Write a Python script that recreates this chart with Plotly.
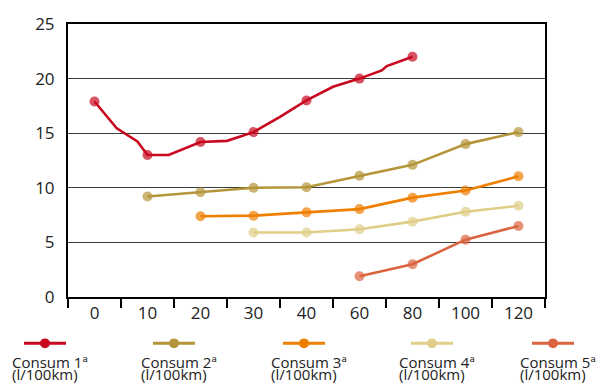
import numpy as np
import plotly.graph_objects as go

# Speed categories along the x axis (km/h)
speeds = [0, 10, 20, 30, 40, 60, 80, 100, 120]
speed_labels = ["0", "10", "20", "30", "40", "60", "80", "100", "120"]

# Consumption per gear (l/100km); gear 1 also has intermediate readings
gear1_speed = [0, 4.2, 8.1, 10, 14, 20, 25, 30, 35, 40, 50, 60, 68.4, 70.3, 80]
gear1_cons = [17.9, 15.45, 14.25, 13.0, 13.0, 14.2, 14.3, 15.1, 16.5, 18.0, 19.25, 20.0, 20.75, 21.15, 22.0]

gear2_speed = [10, 20, 30, 40, 60, 80, 100, 120]
gear2_cons = [9.2, 9.6, 10.0, 10.05, 11.1, 12.1, 14.0, 15.1]

gear3_speed = [20, 30, 40, 60, 80, 100, 120]
gear3_cons = [7.4, 7.45, 7.75, 8.05, 9.1, 9.75, 11.05]

gear4_speed = [30, 40, 60, 80, 100, 120]
gear4_cons = [5.9, 5.9, 6.2, 6.9, 7.8, 8.35]

gear5_speed = [60, 80, 100, 120]
gear5_cons = [1.9, 3.0, 5.25, 6.5]

series_names = ["Consum 1ª", "Consum 2ª", "Consum 3ª", "Consum 4ª", "Consum 5ª"]
unit_label = "(l/100km)"
colors = ["#c8081f", "#b5953a", "#ef7f00", "#e0cd88", "#da6440"]

FONT = "Open Sans, Liberation Sans, Arial, sans-serif"
TEXT_COLOR = "#222222"

W, H = 599, 384
ML, MR, MT, MB = 68, 54, 20, 87
PW, PH = W - ML - MR, H - MT - MB

# categories sit at equal spacing; map km/h onto category slots
cat_index = np.arange(len(speeds))


def to_pos(s):
    return np.interp(s, speeds, cat_index)


fig = go.Figure()

all_series = [
    (gear1_speed, gear1_cons),
    (gear2_speed, gear2_cons),
    (gear3_speed, gear3_cons),
    (gear4_speed, gear4_cons),
    (gear5_speed, gear5_cons),
]

for (spd, cons), name, col in zip(all_series, series_names, colors):
    sizes = [10 if s in speeds else 0 for s in spd]
    fig.add_trace(go.Scatter(
        x=to_pos(spd), y=cons, name=name,
        mode="lines+markers",
        line=dict(color=col, width=2.6),
        marker=dict(color=col, size=sizes, line=dict(width=0)),
        cliponaxis=False,
        showlegend=False,
    ))

fig.update_layout(
    width=W, height=H,
    margin=dict(l=ML, r=MR, t=MT, b=MB, pad=0),
    plot_bgcolor="white", paper_bgcolor="white",
    font=dict(family=FONT, color=TEXT_COLOR),
    showlegend=False,
)

fig.update_xaxes(
    range=[-0.5, len(speeds) - 0.5],
    tickmode="array", tickvals=list(cat_index), ticktext=speed_labels,
    ticks="", tickfont=dict(size=17, color=TEXT_COLOR, family=FONT),
    ticklabelstandoff=0,
    showline=True, linecolor="black", linewidth=2, mirror=True,
    showgrid=False, zeroline=False,
    minor=dict(tickmode="array", tickvals=[i - 0.5 for i in range(len(speeds) + 1)],
               ticks="outside", ticklen=9, tickwidth=2, tickcolor="black", showgrid=False),
)

fig.update_yaxes(
    range=[0, 25], tickmode="array", tickvals=[0, 5, 10, 15, 20, 25],
    ticks="", tickfont=dict(size=17, color=TEXT_COLOR, family=FONT),
    ticklabelstandoff=8,
    showgrid=True, gridcolor="#3c3c3c", gridwidth=1.2,
    showline=True, linecolor="black", linewidth=2, mirror=True,
    zeroline=False,
)


# legend drawn underneath the plot: swatch above a two-line label
def px_x(px):
    return (px - ML) / PW


def px_y(py):
    return (H - MB - py) / PH


legend_centres = [45, 174, 304, 432, 553]
swatch_half = 21
swatch_y = 344
label_font = dict(size=15, color=TEXT_COLOR, family=FONT)
for name, col, cx in zip(series_names, colors, legend_centres):
    fig.add_shape(type="line", xref="paper", yref="paper",
                  x0=px_x(cx - swatch_half), x1=px_x(cx + swatch_half),
                  y0=px_y(swatch_y), y1=px_y(swatch_y),
                  line=dict(color=col, width=3))
    fig.add_shape(type="circle", xref="paper", yref="paper",
                  x0=px_x(cx - 5), x1=px_x(cx + 5),
                  y0=px_y(swatch_y - 5), y1=px_y(swatch_y + 5),
                  fillcolor=col, line=dict(width=0))
    fig.add_annotation(text=name, xref="paper", yref="paper",
                       x=px_x(cx - 34), y=px_y(363), xanchor="left", yanchor="middle",
                       showarrow=False, font=label_font, borderpad=0)
    fig.add_annotation(text=unit_label, xref="paper", yref="paper",
                       x=px_x(cx - 34), y=px_y(386), xanchor="left", yanchor="bottom",
                       showarrow=False, font=label_font, borderpad=0)

fig.write_html("out.html")
